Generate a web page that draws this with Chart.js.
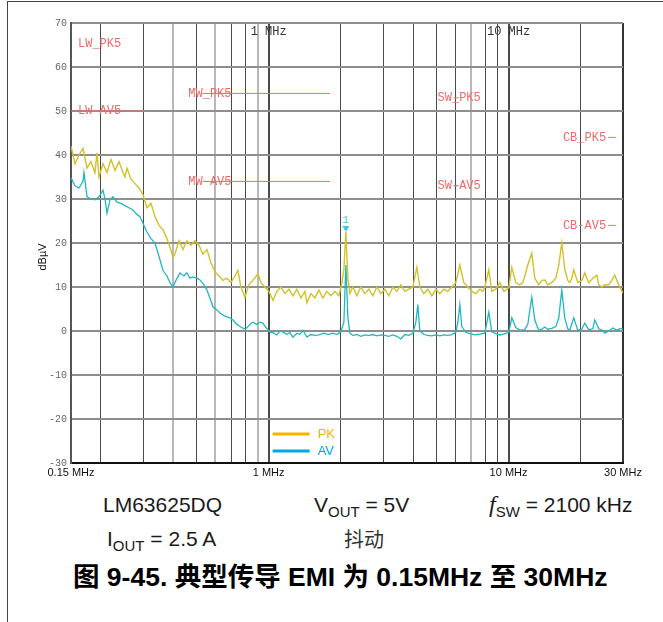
<!DOCTYPE html>
<html>
<head>
<meta charset="utf-8">
<script src="https://cdn.jsdelivr.net/npm/chart.js@4.4.0/dist/chart.umd.min.js"></script>
<style>
  html, body { margin: 0; padding: 0; background: #fff; }
  #page { position: relative; width: 663px; height: 622px; overflow: hidden;
          font-family: "Liberation Sans", Arial, sans-serif; color: #1a1a1a; }
  #chart { position: absolute; left: 0; top: 0; }
  .frameTop { position: absolute; left: 7px; top: 1px; width: 656px; height: 1px; background: #444; }
  .frameLeft { position: absolute; left: 7px; top: 1px; width: 1px; height: 621px; background: #444; }
  .note { position: absolute; font-size: 21px; line-height: 21px; white-space: nowrap; }
  .note .sub { font-size: 15px; position: relative; top: 5px; }
  .note .fsw { font-family: "Liberation Serif", serif; font-style: italic; font-size: 24px; }
  .cjk { position: absolute; font-family: "Noto Sans CJK SC", sans-serif; font-size: 20px; line-height: 20px; color: #333; }
  .caption { position: absolute; left: 73px; top: 563px; font-size: 26.5px; line-height: 28px; font-weight: bold;
             font-family: "Liberation Sans", "Noto Sans CJK SC", sans-serif; color: #000; white-space: nowrap; }
</style>
</head>
<body>
<div id="page">
  <canvas id="chart" width="663" height="480"></canvas>
  <div class="frameTop"></div>
  <div class="frameLeft"></div>
  <div class="note" style="left:103px; top:494px;">LM63625DQ</div>
  <div class="note" style="left:314px; top:494px;">V<span class="sub">OUT</span> = 5V</div>
  <div class="note" style="left:489px; top:494px;"><span class="fsw">f</span><span class="sub">SW</span> = 2100 kHz</div>
  <div class="note" style="left:107px; top:528px;">I<span class="sub">OUT</span> = 2.5 A</div>
  <div class="cjk" style="left:344px; top:529px;">抖动</div>
  <div class="caption">图 9-45. 典型传导 EMI 为 0.15MHz 至 30MHz</div>
</div>
<script>
// ─── data (MHz, dBµV) ───────────────────────────────────
const pkTrace = [
  [0.150, 42], [0.1559, 38], [0.1620, 40], [0.1683, 41.5], [0.1749, 37], [0.1817, 38.5], [0.1888, 36],
  [0.1925, 40.5], [0.1962, 35], [0.2039, 38], [0.2119, 36], [0.2202, 39], [0.2288, 36.5], [0.2377, 38.5],
  [0.2470, 36], [0.2518, 35], [0.2567, 37], [0.2667, 34.5], [0.2772, 33.5], [0.2880, 32.5], [0.2993, 31],
  [0.3110, 28], [0.3232, 29], [0.3358, 26], [0.3489, 24], [0.3626, 23], [0.3768, 21], [0.3878, 19],
  [0.3991, 16.8], [0.4068, 17.5], [0.4228, 20.5], [0.4393, 18.5], [0.4565, 20.5], [0.4743, 19.5],
  [0.4929, 20.5], [0.5122, 19.5], [0.5322, 17.5], [0.5530, 18.5], [0.5747, 15.5], [0.5971, 13.5],
  [0.6205, 12.5], [0.6448, 11.5], [0.6700, 12], [0.6962, 11], [0.7235, 12.5], [0.7446, 13.8], [0.7662, 10],
  [0.7963, 7.7], [0.8275, 10.5], [0.8598, 11.5], [0.9021, 13], [0.9284, 11], [0.9647, 10], [1.0025, 9],
  [1.0417, 7], [1.0825, 9], [1.1248, 10], [1.1688, 8.5], [1.2146, 9.5], [1.2621, 8], [1.3115, 9.5],
  [1.3628, 7.5], [1.4161, 9], [1.4435, 6.4], [1.5000, 8.5], [1.5587, 7.5], [1.6197, 9.3], [1.6830, 7.5],
  [1.7489, 9], [1.8173, 8], [1.8884, 9], [1.9623, 8], [2.0196, 11], [2.0587, 14], [2.0986, 22.5],
  [2.1392, 12], [2.1807, 8.5], [2.2444, 10], [2.3322, 8], [2.4234, 10], [2.5182, 8.5], [2.6167, 9.5],
  [2.7191, 8], [2.8255, 10], [2.9360, 8.5], [3.0509, 9.5], [3.1702, 8], [3.2943, 10], [3.4231, 9],
  [3.5571, 10.5], [3.6962, 9], [3.8408, 9.5], [3.9911, 10], [4.1472, 14.5], [4.2684, 10], [4.4354, 8.5],
  [4.6088, 9.5], [4.7891, 8], [4.9765, 9.5], [5.1712, 8.5], [5.3735, 9.5], [5.5838, 9], [5.8022, 10],
  [6.0292, 11], [6.2652, 15], [6.5103, 11], [6.7652, 10], [7.0295, 9], [7.3045, 8.5], [7.5903, 9.5],
  [7.8103, 9], [7.9633, 10], [8.2747, 13.9], [8.5149, 9], [8.8481, 9.5], [9.1960, 11], [9.5559, 9],
  [10.025, 9.8], [10.317, 14.5], [10.721, 11], [11.141, 10.5], [11.466, 11], [11.688, 12.5], [12.030, 15],
  [12.500, 17.7], [12.865, 12], [13.369, 10.5], [13.759, 11.5], [14.161, 11.6], [14.574, 10.5],
  [15.145, 11], [15.737, 12], [16.197, 15], [16.670, 20], [17.156, 14], [17.657, 11.5], [18.000, 11],
  [18.346, 12], [18.699, 13.9], [19.435, 11], [20.196, 11.5], [20.786, 13.2], [21.596, 11], [22.444, 12],
  [23.322, 12.7], [23.773, 10.5], [24.472, 10], [25.182, 10.5], [26.167, 10.5], [26.934, 11.5],
  [27.718, 12.7], [28.802, 10.5], [30.0, 8.6]
];

const avTrace = [
  [0.150, 34.8], [0.1559, 33], [0.1620, 32.5], [0.1683, 34], [0.1699, 36], [0.1749, 30.5], [0.1817, 30],
  [0.1888, 29.8], [0.1962, 30.5], [0.2039, 32], [0.2079, 30], [0.2119, 26.8], [0.2181, 29.8],
  [0.2244, 30.5], [0.2332, 29.3], [0.2423, 29], [0.2518, 28.5], [0.2617, 28], [0.2719, 27.5],
  [0.2825, 26.5], [0.2908, 26], [0.3022, 24], [0.3110, 22.5], [0.3232, 21], [0.3358, 20], [0.3489, 17],
  [0.3626, 13.8], [0.3768, 12.5], [0.3878, 11], [0.3991, 10], [0.4108, 11.5], [0.4268, 13.2],
  [0.4435, 12.5], [0.4565, 13.2], [0.4698, 12], [0.4835, 12.3], [0.5024, 12], [0.5171, 11.6],
  [0.5374, 10.5], [0.5530, 9.3], [0.5691, 7.5], [0.5857, 5.5], [0.6087, 4.8], [0.6265, 4.1], [0.6510, 3.5],
  [0.6700, 3.2], [0.6896, 3], [0.7097, 2.5], [0.7375, 1.5], [0.7662, 0.9], [0.7886, 0.5], [0.8118, 0.7],
  [0.8354, 1.5], [0.8598, 2], [0.8935, 1.5], [0.9196, 2], [0.9464, 1.8], [0.9741, 0.8], [1.0122, -0.2],
  [1.0518, -0.5], [1.0825, -0.9], [1.1141, 0], [1.1466, -0.2], [1.1915, -0.8], [1.2263, -0.3],
  [1.2621, -1.4], [1.3115, -0.5], [1.3498, -0.8], [1.3892, 0.2], [1.4435, -1.4], [1.5000, -0.8],
  [1.5587, -1], [1.6197, -0.9], [1.6993, -0.5], [1.7657, -0.8], [1.8526, -0.5], [1.9249, -0.8],
  [2.0003, -0.2], [2.0587, 2], [2.0986, 15], [2.1392, 3], [2.1807, -0.5], [2.2444, -1], [2.3322, -0.8],
  [2.4234, -1.2], [2.5182, -0.9], [2.6167, -1], [2.7191, -0.8], [2.8255, -1.1], [2.9360, -0.9],
  [3.0509, -1], [3.1702, -1.2], [3.2943, -0.9], [3.4231, -1.2], [3.5571, -1.8], [3.6962, -0.8],
  [3.8408, -1], [3.9911, -0.5], [4.1076, 2], [4.1872, 6], [4.2684, 0], [4.4354, -0.8], [4.6088, -1],
  [4.7891, -1.1], [4.9765, -0.9], [5.1712, -1.1], [5.3735, -0.9], [5.5838, -1], [5.8022, -0.8],
  [6.0292, -0.3], [6.1460, 2], [6.2652, 6], [6.3866, 1], [6.6366, -0.3], [6.8959, -0.6], [7.2345, -0.9],
  [7.5903, -0.7], [7.9633, -0.5], [8.2747, 4.3], [8.5149, -0.2], [8.8481, -0.6], [9.1960, -0.9],
  [9.5559, -0.7], [10.025, -0.3], [10.317, 3], [10.721, 0.8], [11.141, 0.2], [11.688, 0.3], [12.030, 1.5],
  [12.500, 7.7], [12.865, 2.5], [13.369, 0.2], [13.759, 0.4], [14.161, 0.9], [14.574, 0.4], [15.145, 0.6],
  [15.737, 1], [16.197, 3], [16.670, 9.3], [17.156, 3], [17.657, 0.5], [18.000, 0.2], [18.699, 3],
  [19.435, 0.2], [20.196, 0.4], [20.786, 1.8], [21.596, 0.3], [22.444, 0.5], [22.878, 2.5], [23.773, 0.5],
  [24.472, 0.2], [25.182, -0.5], [26.167, 0], [27.191, 0.7], [28.255, 0.2], [29.360, 0.6], [30.0, 0.5]
];

// CISPR 25 class 5 limit bands
const bandNames    = ["LW", "MW", "SW", "CB"];
const bandStartMHz = [0.15, 0.53, 5.9, 26];
const bandEndMHz   = [0.30, 1.8, 6.2, 28];
const bandPkLimit  = [70, 54, 53, 44];
const bandAvLimit  = [50, 34, 33, 24];

// axes
const gridFreqMHz  = [0.15, 0.2, 0.3, 0.4, 0.5, 0.6, 0.7, 0.8, 0.9, 1, 2, 3, 4, 5, 6, 7, 8, 9, 10, 20, 30];
const lightGridMHz = [0.4, 0.6, 0.9, 7];
const boldGridMHz  = [1, 10, 30];
const xLabelFreqs  = [0.15, 1, 10, 30];
const xLabelTexts  = ["0.15 MHz", "1 MHz", "10 MHz", "30 MHz"];
const topMarkFreqs = [1, 10];
const topMarkTexts = ["1 MHz", "10 MHz"];
const yMin = -30, yMax = 70, yStep = 10;
const markerFreqMHz = 2.1;

const PK_COLOR = "#d4c02a";
const AV_COLOR = "#22b6c0";
const LIMIT_COLOR = "#f06a6a";

// ─── datasets ─────────────────────────────────────────
const datasets = [
  { label: "PK", data: pkTrace.map(p => ({ x: p[0], y: p[1] })), borderColor: PK_COLOR, borderWidth: 1.4 },
  { label: "AV", data: avTrace.map(p => ({ x: p[0], y: p[1] })), borderColor: AV_COLOR, borderWidth: 1.3 }
];
bandNames.forEach((n, i) => {
  [bandPkLimit[i], bandAvLimit[i]].forEach(lim => {
    if (lim >= yMax) return;   // LW peak limit sits on the frame
    datasets.push({
      label: n + " limit",
      data: [{ x: bandStartMHz[i], y: lim }, { x: bandEndMHz[i], y: lim }],
      borderColor: LIMIT_COLOR, borderWidth: 1
    });
  });
});

// label placement per band: reference point + pixel offset
const labelPlace = [
  { ref: "start", dx: 7,  align: "left" },
  { ref: "start", dx: 29, align: "right" },
  { ref: "mid",   dx: 3,  align: "center" },
  { ref: "start", dx: -2, align: "right" }
];

// ─── overlay texts / marker / legend ─────────────────────
const overlay = {
  id: "overlay",
  afterDatasetsDraw(chart) {
    const { ctx, chartArea, scales: { x, y } } = chart;
    ctx.save();

    // limit labels
    ctx.font = '12px "Liberation Mono", monospace';
    ctx.fillStyle = LIMIT_COLOR;
    ctx.textBaseline = "middle";
    bandNames.forEach((n, i) => {
      const x0 = x.getPixelForValue(bandStartMHz[i]);
      const x1 = x.getPixelForValue(bandEndMHz[i]);
      const pl = labelPlace[i];
      const px = (pl.ref === "mid" ? (x0 + x1) / 2 : x0) + pl.dx;
      ctx.textAlign = pl.align;
      ctx.fillText(n + "_PK5", px, Math.max(y.getPixelForValue(bandPkLimit[i]), chartArea.top + 21));
      ctx.fillText(n + "-AV5", px, y.getPixelForValue(bandAvLimit[i]));
    });

    // decade marks at the top
    ctx.fillStyle = "#333";
    ctx.textAlign = "center";
    topMarkFreqs.forEach((f, i) => {
      ctx.fillText(topMarkTexts[i], x.getPixelForValue(f), chartArea.top + 9);
    });

    // marker 1 on the PK trace
    let best = pkTrace[0];
    pkTrace.forEach(p => { if (Math.abs(p[0] - markerFreqMHz) < Math.abs(best[0] - markerFreqMHz)) best = p; });
    const mx = x.getPixelForValue(best[0]), my = y.getPixelForValue(best[1]);
    ctx.fillStyle = "#3cc8ee";
    ctx.beginPath();
    ctx.moveTo(mx - 3.5, my - 6);
    ctx.lineTo(mx + 3.5, my - 6);
    ctx.lineTo(mx, my);
    ctx.closePath();
    ctx.fill();
    ctx.font = '11px "Liberation Mono", monospace';
    ctx.fillText("1", mx, my - 12);

    // legend
    const lx = x.getPixelForValue(1) + 4;
    [["PK", "#f7b500", 29], ["AV", "#00a8e6", 12]].forEach(([t, c, off]) => {
      const ly = chartArea.bottom - off;
      ctx.strokeStyle = c;
      ctx.lineWidth = 3;
      ctx.beginPath();
      ctx.moveTo(lx, ly);
      ctx.lineTo(lx + 37, ly);
      ctx.stroke();
      ctx.fillStyle = c;
      ctx.textAlign = "left";
      ctx.font = '13px "Liberation Sans", Arial, sans-serif';
      ctx.fillText(t, lx + 45, ly);
    });

    // y title
    ctx.translate(43, (chartArea.top + chartArea.bottom) / 2 + 14);
    ctx.rotate(-Math.PI / 2);
    ctx.fillStyle = "#111";
    ctx.textAlign = "center";
    ctx.font = '11px "Liberation Sans", Arial, sans-serif';
    ctx.fillText("dBµV", 0, 0);
    ctx.restore();
  }
};

// ─── chart ──────────────────────────────────────────────
new Chart(document.getElementById("chart"), {
  type: "line",
  data: { datasets },
  options: {
    responsive: false,
    animation: false,
    devicePixelRatio: 1,
    layout: { padding: { left: 0, right: 40, top: 23, bottom: 0 } },
    plugins: { legend: { display: false }, tooltip: { enabled: false } },
    elements: { point: { radius: 0 }, line: { tension: 0 } },
    scales: {
      x: {
        type: "logarithmic",
        min: 0.15,
        max: 30,
        afterBuildTicks: s => { s.ticks = gridFreqMHz.map(v => ({ value: v })); },
        afterFit: s => { s.height = 17; },
        ticks: {
          autoSkip: false, maxRotation: 0, padding: 3, color: "#111",
          font: { family: "Liberation Sans", size: 11 },
          callback: v => { const i = xLabelFreqs.indexOf(v); return i < 0 ? "" : xLabelTexts[i]; }
        },
        grid: {
          drawTicks: false,
          color: c => lightGridMHz.includes(c.tick.value) ? "#b8b8b8" : (c.tick.value === 30 ? "#333" : "#4a4a4a"),
          lineWidth: c => (lightGridMHz.includes(c.tick.value) || boldGridMHz.includes(c.tick.value)) ? 2 : 1
        },
        border: { color: "#111", width: 2 }
      },
      y: {
        min: yMin,
        max: yMax,
        afterFit: s => { s.width = 71; },
        ticks: {
          stepSize: yStep, padding: 4, color: "#666",
          font: { family: "Liberation Mono", size: 10 },
          callback: v => v < 0 ? "-" + Math.abs(v) : String(v)
        },
        grid: { drawTicks: false, color: "#8e8e8e", lineWidth: 2 },
        border: { color: "#555", width: 2 }
      }
    }
  },
  plugins: [overlay]
});
</script>
</body>
</html>
